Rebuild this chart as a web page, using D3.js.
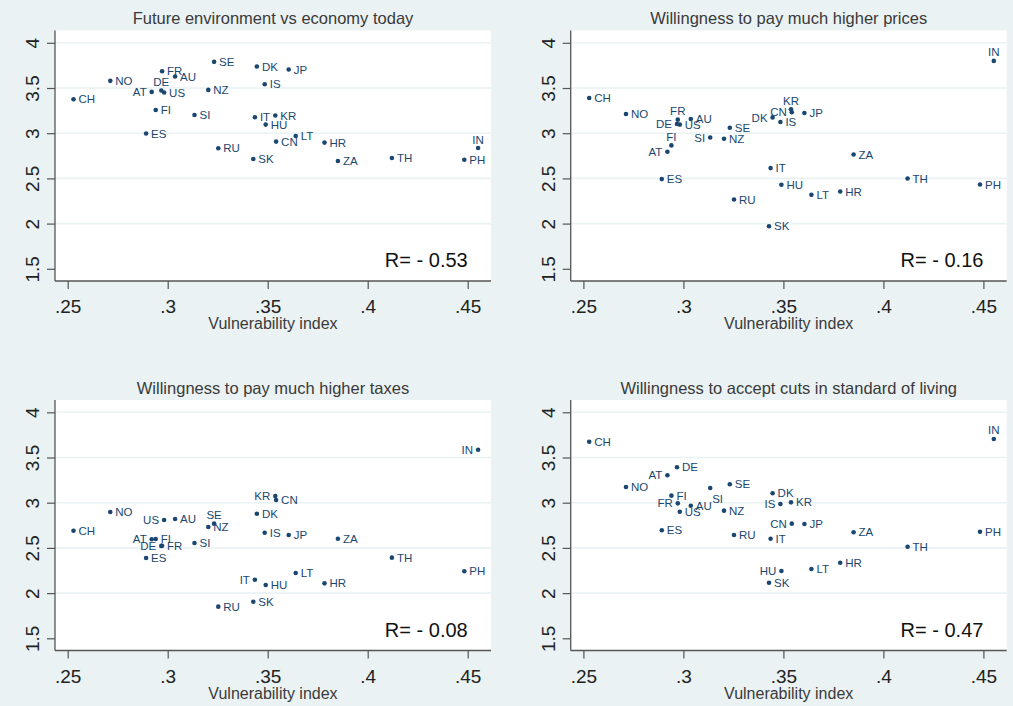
<!DOCTYPE html>
<html>
<head>
<meta charset="utf-8">
<script src="https://cdn.jsdelivr.net/npm/d3@7"></script>
<style>
  body { margin: 0; background: #eaf2f3; }
  svg { display: block; font-family: "Liberation Sans", Arial, sans-serif; }
</style>
</head>
<body>
<svg id="chart"></svg>
<script>
// Countries (ISO codes) and their climate vulnerability index
const countries = ["AT","AU","CH","CN","DE","DK","ES","FI","FR","HR","HU","IN","IS","IT",
                   "JP","KR","LT","NO","NZ","PH","RU","SE","SI","SK","TH","US","ZA"];
const vulnerability = [0.2920,0.3037,0.2529,0.3542,0.2968,0.3446,0.2892,0.2940,0.2972,0.3784,0.3490,0.4552,0.3485,0.3436,
                       0.3605,0.3538,0.3640,0.2713,0.3203,0.4483,0.3253,0.3232,0.3134,0.3428,0.4121,0.2982,0.3851];

// Mean attitude scores per country
const futureEnvironment = [3.457,3.628,3.376,2.907,3.472,3.738,2.996,3.257,3.686,2.896,3.095,2.836,3.542,3.176,
                           3.705,3.195,2.969,3.579,3.479,2.707,2.833,3.789,3.202,2.714,2.725,3.450,2.692];
const higherPrices      = [2.795,3.157,3.390,3.232,3.102,3.175,2.492,2.865,3.150,2.355,2.429,3.800,3.124,2.614,
                           3.224,3.264,2.318,3.213,2.939,2.432,2.266,3.061,2.953,1.971,2.499,3.095,2.765];
const higherTaxes       = [2.596,2.820,2.690,3.030,2.522,2.878,2.388,2.598,2.524,2.108,2.090,3.586,2.668,2.148,
                           2.643,3.074,2.222,2.897,2.731,2.241,1.850,2.768,2.554,1.905,2.392,2.809,2.602];
const cutsInLiving      = [3.303,2.967,3.675,2.768,3.392,3.104,2.695,3.078,2.993,2.336,2.244,3.705,2.986,2.602,
                           2.764,3.004,2.267,3.174,2.912,2.679,2.643,3.204,3.163,2.115,2.513,2.900,2.673];

const panelTitles = ["Future environment vs economy today",
                     "Willingness to pay much higher prices",
                     "Willingness to pay much higher taxes",
                     "Willingness to accept cuts in standard of living"];
const correlations = [-0.53, -0.16, -0.08, -0.47];

const xTicks = [0.25, 0.30, 0.35, 0.40, 0.45];
const xTickLabels = [".25", ".3", ".35", ".4", ".45"];
const yTicks = [1.5, 2, 2.5, 3, 3.5, 4];
const yTickLabels = ["1.5", "2", "2.5", "3", "3.5", "4"];
const xAxisTitle = "Vulnerability index";

// Marker label placement as clock positions (default: 3 o'clock)
const labelClock = [
  { DE: 12, AT: 9, IN: 12 },
  { FR: 12, DE: 9, FI: 12, AT: 9, SI: 9, DK: 9, CN: 9, KR: 12, IN: 12 },
  { US: 9, SE: 12, AT: 9, DE: 9, KR: 9, IT: 9, IN: 9 },
  { IN: 12, AT: 9, SI: 5, FR: 9, IS: 9, CN: 9, HU: 9 }
];

const series = [futureEnvironment, higherPrices, higherTaxes, cutsInLiving];

// ---- drawing ----
const W = 1013, H = 706;
const BG = "#eaf2f3", NAVY = "#1a476f";
const svg = d3.select("#chart").attr("width", W).attr("height", H);
svg.append("rect").attr("width", W).attr("height", H).attr("fill", BG);

const PW = 436, PH = 250.5;
const origins = [[55, 30.5], [570.7, 30.5], [55, 400], [570.7, 400]];

const x = d3.scaleLinear().domain([0.25, 0.45]).range([12.7, 412.7]);
const y = d3.scaleLinear().domain([1.5, 4]).range([238.3, 12.3]);

series.forEach((vals, i) => {
  const g = svg.append("g").attr("transform", `translate(${origins[i][0]},${origins[i][1]})`);

  // plot region
  g.append("rect").attr("width", PW).attr("height", PH).attr("fill", "#fff");

  // horizontal grid lines
  g.append("g").selectAll("line")
    .data(yTicks.filter(t => t > 1.5))
    .join("line")
    .attr("x1", 0).attr("x2", PW)
    .attr("y1", d => y(d)).attr("y2", d => y(d))
    .attr("stroke", BG).attr("stroke-width", 1.6);

  // y axis
  const ya = g.append("g")
    .call(d3.axisLeft(y).tickValues(yTicks)
      .tickFormat((d, j) => yTickLabels[j]).tickSize(8).tickSizeOuter(0));
  ya.select(".domain").remove();
  ya.selectAll(".tick line").attr("stroke", "#555").attr("stroke-width", 1.2);
  ya.selectAll(".tick text")
    .attr("x", null).attr("dy", null)
    .attr("transform", "translate(-16,0) rotate(-90)")
    .attr("text-anchor", "middle")
    .attr("font-size", 19).attr("fill", "#222")
    .attr("font-family", "Liberation Sans, Arial, sans-serif");

  // x axis
  const xa = g.append("g").attr("transform", `translate(0,${PH})`)
    .call(d3.axisBottom(x).tickValues(xTicks)
      .tickFormat((d, j) => xTickLabels[j]).tickSize(8).tickSizeOuter(0).tickPadding(11));
  xa.select(".domain").remove();
  xa.selectAll(".tick line").attr("stroke", "#555").attr("stroke-width", 1.2);
  xa.selectAll(".tick text")
    .attr("font-size", 19).attr("fill", "#222")
    .attr("font-family", "Liberation Sans, Arial, sans-serif");

  // axis lines spanning the plot region
  g.append("line").attr("x1", 0).attr("x2", 0).attr("y1", 0).attr("y2", PH)
    .attr("stroke", "#555").attr("stroke-width", 1.3);
  g.append("line").attr("x1", 0).attr("x2", PW).attr("y1", PH).attr("y2", PH)
    .attr("stroke", "#555").attr("stroke-width", 1.3);

  // titles
  g.append("text").attr("x", PW / 2).attr("y", -6.5)
    .attr("text-anchor", "middle").attr("font-size", 16.5).attr("fill", "#3a3a3a")
    .text(panelTitles[i]);
  g.append("text").attr("x", PW / 2).attr("y", PH + 48)
    .attr("text-anchor", "middle").attr("font-size", 16).attr("fill", "#3a3a3a")
    .text(xAxisTitle);

  // points
  const pts = countries.map((c, k) => ({ c, vx: vulnerability[k], vy: vals[k] }));
  g.append("g").selectAll("circle").data(pts).join("circle")
    .attr("cx", d => x(d.vx)).attr("cy", d => y(d.vy))
    .attr("r", 2.3).attr("fill", NAVY);

  // marker labels
  const clock = labelClock[i];
  g.append("g").selectAll("text").data(pts).join("text")
    .attr("font-size", 11.5).attr("fill", NAVY)
    .each(function (d) {
      const pos = clock[d.c] || 3;
      const t = d3.select(this);
      const cx = x(d.vx), cy = y(d.vy);
      if (pos === 3) {
        t.attr("x", cx + 5).attr("y", cy).attr("dy", "0.36em").attr("text-anchor", "start");
      } else if (pos === 9) {
        t.attr("x", cx - 5).attr("y", cy).attr("dy", "0.36em").attr("text-anchor", "end");
      } else if (pos === 12) {
        t.attr("x", cx).attr("y", cy - 4.5).attr("text-anchor", "middle");
      } else if (pos === 5) {
        t.attr("x", cx + 2).attr("y", cy + 15).attr("text-anchor", "start");
      }
    })
    .text(d => d.c);

  // correlation annotation
  const r = correlations[i];
  g.append("text").attr("x", x(0.45)).attr("y", y(1.515))
    .attr("text-anchor", "end").attr("font-size", 20).attr("fill", "#111")
    .text(`R= ${r < 0 ? "- " : ""}${Math.abs(r).toFixed(2)}`);
});
</script>
</body>
</html>
